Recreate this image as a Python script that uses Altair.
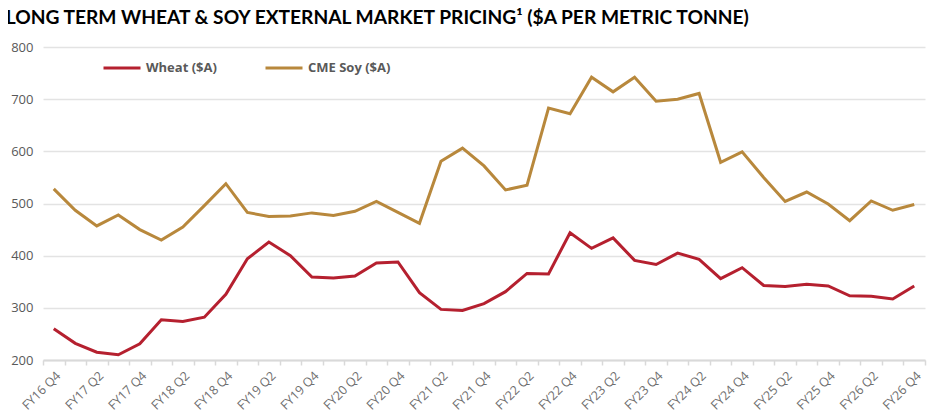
import altair as alt
import pandas as pd

quarters = [
    "FY16 Q4", "FY17 Q1", "FY17 Q2", "FY17 Q3", "FY17 Q4",
    "FY18 Q1", "FY18 Q2", "FY18 Q3", "FY18 Q4",
    "FY19 Q1", "FY19 Q2", "FY19 Q3", "FY19 Q4",
    "FY20 Q1", "FY20 Q2", "FY20 Q3", "FY20 Q4",
    "FY21 Q1", "FY21 Q2", "FY21 Q3", "FY21 Q4",
    "FY22 Q1", "FY22 Q2", "FY22 Q3", "FY22 Q4",
    "FY23 Q1", "FY23 Q2", "FY23 Q3", "FY23 Q4",
    "FY24 Q1", "FY24 Q2", "FY24 Q3", "FY24 Q4",
    "FY25 Q1", "FY25 Q2", "FY25 Q3", "FY25 Q4",
    "FY26 Q1", "FY26 Q2", "FY26 Q3", "FY26 Q4",
]

wheat = [260, 232, 215, 210, 231, 277, 274, 282, 326, 394, 426, 400, 359,
         357, 361, 386, 388, 329, 297, 295, 308, 331, 366, 365, 444,
         414, 434, 391, 383, 405, 393, 356, 377, 343, 341, 345, 342,
         323, 322, 317, 342]

soy = [528, 487, 457, 478, 450, 430, 455, 496, 538, 483, 475, 476, 482,
       477, 485, 504, 483, 462, 581, 606, 572, 526, 535, 683, 672,
       742, 714, 742, 696, 700, 711, 579, 599, 550, 504, 522, 499,
       467, 505, 487, 498]

tick_labels = quarters[::2]

series_names = ["Wheat ($A)", "CME Soy ($A)"]
colors = ["#B5202F", "#B8883C"]

df = pd.concat([
    pd.DataFrame({"quarter": quarters, "value": wheat, "series": series_names[0], "order": range(len(quarters))}),
    pd.DataFrame({"quarter": quarters, "value": soy, "series": series_names[1], "order": range(len(quarters))}),
])

label_expr = "indexof([" + ",".join("'" + t + "'" for t in tick_labels) + "], datum.value) >= 0 ? datum.value : ''"

chart = alt.Chart(df).mark_line(strokeWidth=3).encode(
    x=alt.X(
        "quarter:N",
        sort=quarters,
        scale=alt.Scale(type="band", paddingInner=0, paddingOuter=0),
        axis=alt.Axis(
            title=None,
            values=quarters,
            labelExpr=label_expr,
            labelOverlap=False,
            labelAngle=-45,
            labelAlign="right",
            labelBaseline="top",
            labelColor="#6E6E6E",
            labelFont="Open Sans",
            labelFontSize=12.5,
            labelPadding=4,
            domainColor="#D9D9D9",
            domainWidth=2,
            ticks=True,
            tickBand="extent",
            tickSize=5,
            tickColor="#D9D9D9",
            tickWidth=1.5,
            grid=False,
        ),
    ),
    y=alt.Y(
        "value:Q",
        scale=alt.Scale(domain=[200, 800], nice=False, zero=False),
        axis=alt.Axis(
            title=None,
            values=[200, 300, 400, 500, 600, 700, 800],
            labelColor="#595959",
            labelFont="Open Sans",
            labelFontSize=13,
            labelPadding=10,
            domain=False,
            ticks=False,
            gridColor="#E3E3E3",
            gridWidth=1.5,
        ),
    ),
    color=alt.Color(
        "series:N",
        sort=series_names,
        scale=alt.Scale(domain=series_names, range=colors),
        legend=alt.Legend(
            title=None,
            orient="none",
            legendX=59,
            legendY=1,
            direction="horizontal",
            symbolType="stroke",
            symbolSize=1369,
            symbolStrokeWidth=3,
            labelFont="Open Sans",
            labelFontSize=13,
            labelFontWeight="bold",
            labelColor="#595959",
            labelOffset=4,
            columnPadding=42,
        ),
    ),
    order="order:Q",
).properties(
    width=882,
    height=313,
    padding={"left": 35, "top": 39, "right": 10, "bottom": 55},
    autosize=alt.AutoSizeParams(type="none"),
    title=alt.TitleParams(
        "LONG TERM WHEAT & SOY EXTERNAL MARKET PRICING¹ ($A PER METRIC TONNE)",
        anchor="start",
        font="Lato",
        fontSize=19.2,
        fontWeight="bold",
        color="#000000",
        dx=-5,
        offset=13,
    ),
).configure_view(stroke=None)

chart.save("out.html", embed_options={"renderer": "svg", "actions": False})
